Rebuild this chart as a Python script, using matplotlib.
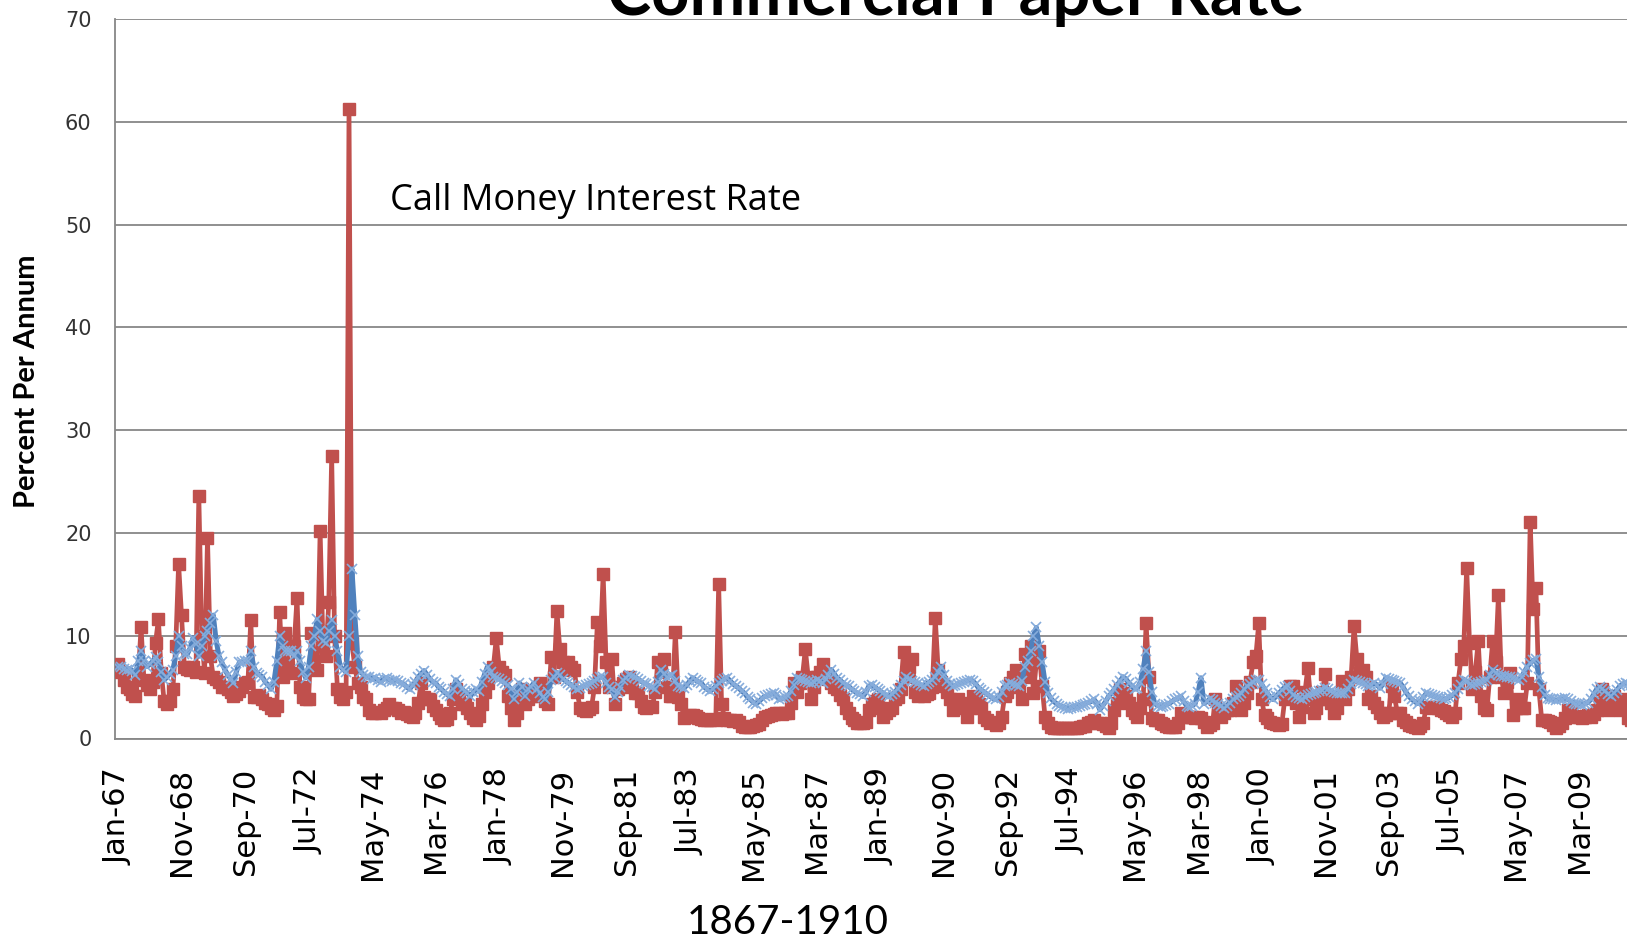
import matplotlib
matplotlib.use("Agg")
import matplotlib.pyplot as plt
import numpy as np

# monthly rates, Jan 1867 - Dec 1910, one row per year
call_money = [
    7.2, 6.5, 5.7, 5.0, 4.8, 4.3, 4.1, 6.0, 10.8, 5.7, 5.2, 4.8,      # 1867
    5.5, 9.3, 11.6, 6.4, 3.6, 3.4, 3.6, 4.8, 9.0, 17.0, 12.0, 7.0,    # 1868
    6.8, 6.7, 7.0, 6.5, 23.6, 10.0, 6.4, 19.5, 8.0, 6.0, 5.8, 5.5,    # 1869
    5.0, 5.0, 4.8, 4.5, 4.1, 4.3, 4.6, 5.0, 5.4, 5.5, 11.5, 4.0,      # 1870
    4.0, 4.2, 3.8, 3.5, 3.4, 3.0, 2.8, 3.2, 12.3, 6.0, 10.3, 7.0,     # 1871
    6.4, 9.0, 13.7, 5.0, 4.0, 3.8, 3.8, 10.3, 7.5, 6.7, 20.2, 9.0,    # 1872
    8.0, 13.3, 27.5, 10.0, 4.8, 4.0, 3.8, 4.5, 61.2, 9.3, 7.0, 5.4,   # 1873
    5.0, 4.0, 3.8, 2.8, 2.5, 2.5, 2.6, 2.5, 2.8, 3.0, 3.4, 3.0,       # 1874
    3.0, 2.8, 2.5, 2.6, 2.4, 2.2, 2.1, 2.5, 3.5, 5.4, 4.0, 3.8,       # 1875
    3.8, 3.2, 2.8, 2.4, 2.0, 1.8, 1.9, 2.5, 3.8, 4.8, 4.0, 3.4,       # 1876
    3.4, 3.0, 2.5, 2.0, 1.8, 2.2, 3.4, 4.5, 5.4, 6.5, 7.0, 9.8,       # 1877
    7.0, 6.5, 6.2, 4.1, 3.0, 1.8, 2.5, 3.5, 4.8, 3.4, 3.8, 4.1,       # 1878
    4.1, 4.5, 5.4, 4.5, 3.6, 3.4, 7.9, 6.0, 12.4, 8.7, 7.4, 6.7,      # 1879
    7.4, 7.0, 6.7, 4.5, 3.0, 2.8, 2.7, 2.9, 3.1, 5.0, 11.3, 9.0,      # 1880
    16.0, 7.4, 5.0, 7.7, 3.4, 4.8, 5.0, 5.4, 5.8, 6.0, 5.0, 4.4,      # 1881
    4.4, 3.6, 3.1, 3.0, 3.2, 3.1, 4.5, 7.4, 6.5, 7.7, 5.0, 4.1,       # 1882
    4.1, 10.4, 4.0, 3.4, 2.0, 2.1, 2.3, 2.3, 2.2, 2.0, 1.9, 1.8,      # 1883
    1.8, 1.8, 1.9, 1.8, 15.0, 3.4, 2.0, 1.8, 1.8, 1.7, 1.8, 1.6,      # 1884
    1.2, 1.1, 1.1, 1.1, 1.2, 1.3, 1.4, 1.8, 2.1, 2.2, 2.3, 2.4,       # 1885
    2.5, 2.5, 2.4, 2.5, 2.5, 3.5, 5.4, 4.5, 5.4, 6.0, 8.7, 6.0,       # 1886
    3.8, 5.0, 6.0, 6.5, 7.2, 6.0, 5.8, 5.4, 5.0, 4.8, 4.2, 3.8,       # 1887
    3.0, 2.5, 2.0, 1.8, 1.5, 1.5, 1.5, 1.6, 2.8, 3.4, 3.6, 3.8,       # 1888
    3.0, 2.1, 2.5, 2.8, 3.0, 3.8, 4.0, 4.8, 8.4, 6.0, 7.0, 7.7,       # 1889
    4.5, 4.1, 4.2, 4.1, 4.3, 4.4, 5.0, 11.7, 6.7, 5.5, 5.1, 4.5,      # 1890
    3.8, 2.8, 3.0, 3.8, 3.5, 3.4, 2.1, 3.0, 4.1, 3.8, 3.4, 3.0,       # 1891
    2.1, 1.8, 1.5, 1.6, 1.3, 1.5, 2.1, 4.1, 4.5, 5.4, 6.0, 6.7,       # 1892
    5.0, 3.8, 8.2, 6.0, 9.0, 4.4, 7.4, 8.5, 5.1, 2.1, 1.5, 1.1,       # 1893
    1.0, 1.0, 1.0, 1.0, 1.0, 1.0, 1.0, 1.0, 1.0, 1.1, 1.2, 1.2,       # 1894
    1.5, 1.6, 1.8, 1.5, 1.5, 1.4, 1.2, 1.0, 1.5, 2.8, 3.5, 4.8,       # 1895
    4.4, 4.1, 3.5, 2.8, 2.5, 2.1, 3.0, 3.8, 11.2, 6.0, 2.0, 1.8,      # 1896
    1.8, 1.5, 1.4, 1.2, 1.1, 1.1, 1.1, 1.5, 2.5, 2.3, 2.1, 2.1,       # 1897
    2.1, 2.0, 2.1, 2.0, 1.6, 1.1, 1.3, 1.5, 3.8, 2.5, 2.1, 2.5,       # 1898
    2.8, 2.8, 3.5, 5.1, 3.5, 2.8, 3.5, 4.4, 5.5, 7.4, 8.0, 11.2,      # 1899
    3.8, 2.3, 2.0, 1.6, 1.5, 1.4, 1.3, 1.4, 3.8, 4.0, 5.1, 5.1,       # 1900
    3.5, 2.1, 3.1, 4.5, 6.9, 3.8, 2.5, 3.0, 3.8, 4.5, 6.3, 3.8,       # 1901
    3.5, 2.5, 3.0, 4.0, 5.6, 3.8, 4.8, 6.0, 10.9, 7.7, 6.5, 6.7,      # 1902
    6.0, 3.8, 4.1, 3.5, 3.1, 2.5, 2.1, 2.3, 2.5, 5.1, 4.1, 2.5,       # 1903
    2.5, 1.8, 1.6, 1.3, 1.2, 1.1, 1.0, 1.2, 1.5, 3.1, 3.0, 3.1,       # 1904
    3.1, 3.0, 2.8, 2.7, 2.5, 2.3, 2.1, 2.5, 5.4, 7.7, 9.0, 16.6,      # 1905
    9.3, 4.8, 6.5, 9.5, 4.1, 3.0, 2.8, 6.0, 9.5, 7.4, 14.0, 6.0,      # 1906
    4.4, 5.5, 6.4, 2.3, 3.0, 3.8, 3.0, 3.0, 5.4, 21.1, 12.6, 14.6,    # 1907
    4.8, 1.8, 1.8, 1.7, 1.6, 1.3, 1.0, 1.2, 1.5, 2.0, 2.8, 2.5,       # 1908
    2.1, 2.2, 2.1, 2.0, 2.1, 2.3, 2.1, 2.4, 2.8, 3.5, 4.8, 3.5,       # 1909
    2.8, 3.5, 4.1, 3.0, 2.8, 3.2, 3.8, 2.0, 1.8, 2.5, 3.0, 3.5,       # 1910
]

commercial_paper = [
    7.0, 7.0, 6.8, 6.7, 6.8, 6.6, 6.2, 7.5, 8.5, 7.5, 7.0, 7.2,       # 1867
    7.5, 7.9, 7.4, 6.5, 5.7, 6.0, 6.3, 6.7, 8.0, 10.0, 9.0, 8.2,      # 1868
    8.2, 8.8, 9.8, 9.2, 8.0, 9.0, 10.0, 10.5, 11.2, 12.0, 9.5, 8.0,   # 1869
    7.4, 6.7, 6.2, 5.8, 5.4, 6.5, 7.4, 7.4, 7.5, 7.5, 8.5, 7.0,       # 1870
    6.4, 6.2, 6.0, 5.5, 5.2, 4.8, 5.5, 7.5, 10.0, 9.0, 8.5, 8.5,      # 1871
    8.5, 8.0, 8.5, 7.5, 6.5, 5.9, 7.0, 9.0, 10.0, 11.6, 10.5, 9.5,    # 1872
    9.3, 10.5, 11.5, 10.0, 8.5, 7.0, 6.7, 6.5, 10.0, 16.5, 12.0, 8.0, # 1873
    6.5, 6.2, 6.0, 6.0, 5.8, 5.9, 5.7, 5.5, 5.8, 5.9, 5.7, 5.6,       # 1874
    5.7, 5.6, 5.4, 5.3, 5.0, 4.8, 5.2, 5.5, 6.0, 6.3, 6.6, 6.2,       # 1875
    5.8, 5.5, 5.4, 5.0, 4.8, 4.5, 4.3, 4.1, 4.8, 5.7, 5.3, 4.8,       # 1876
    4.6, 4.4, 4.1, 4.5, 4.8, 4.6, 5.5, 6.3, 7.0, 6.5, 6.0, 5.9,       # 1877
    5.8, 5.6, 5.4, 5.2, 4.8, 3.8, 4.5, 5.4, 5.0, 4.1, 4.8, 5.0,       # 1878
    5.4, 4.8, 4.4, 4.0, 3.8, 4.5, 5.7, 6.0, 6.4, 6.2, 5.8, 5.6,       # 1879
    5.4, 5.2, 5.0, 4.8, 4.9, 5.1, 5.2, 5.3, 5.4, 5.6, 5.8, 6.0,       # 1880
    6.0, 5.4, 5.0, 4.8, 4.0, 4.5, 5.0, 5.7, 5.9, 6.2, 6.1, 6.0,       # 1881
    5.8, 5.6, 5.4, 5.3, 5.1, 5.0, 4.8, 5.5, 6.7, 6.3, 6.0, 6.1,       # 1882
    6.2, 5.6, 5.1, 5.0, 4.9, 5.2, 5.6, 5.9, 5.7, 5.5, 5.4, 5.0,       # 1883
    4.8, 4.6, 4.8, 5.1, 5.4, 5.6, 5.8, 5.9, 5.6, 5.3, 5.1, 4.9,       # 1884
    4.6, 4.4, 4.0, 3.8, 3.5, 3.4, 3.6, 3.9, 4.1, 4.2, 4.3, 4.4,       # 1885
    4.2, 3.8, 3.9, 4.0, 4.1, 4.6, 5.2, 5.9, 5.8, 5.7, 5.6, 5.5,       # 1886
    5.4, 5.5, 5.7, 5.6, 5.4, 5.8, 6.2, 6.7, 6.3, 5.9, 5.7, 5.4,       # 1887
    5.2, 5.1, 4.8, 4.6, 4.4, 4.3, 4.1, 4.5, 5.1, 5.2, 5.0, 4.8,       # 1888
    4.6, 4.4, 4.2, 4.1, 4.3, 4.5, 4.8, 5.2, 5.6, 6.0, 5.8, 5.6,       # 1889
    5.5, 5.4, 5.2, 5.1, 5.3, 5.5, 5.7, 6.0, 6.5, 7.0, 6.2, 5.6,       # 1890
    5.3, 5.1, 5.2, 5.3, 5.4, 5.5, 5.6, 5.7, 5.6, 5.3, 4.9, 4.7,       # 1891
    4.5, 4.3, 4.1, 3.9, 3.8, 4.0, 4.5, 5.1, 5.2, 5.4, 5.3, 5.2,       # 1892
    5.1, 5.6, 7.0, 7.5, 8.5, 10.0, 10.8, 9.0, 7.4, 5.5, 4.4, 3.9,     # 1893
    3.6, 3.4, 3.2, 3.1, 3.0, 2.9, 3.0, 3.1, 3.1, 3.2, 3.3, 3.4,       # 1894
    3.5, 3.6, 3.8, 3.4, 2.8, 3.2, 3.6, 4.1, 4.4, 4.8, 5.2, 5.6,       # 1895
    6.0, 5.8, 5.4, 5.1, 4.8, 4.9, 5.5, 6.8, 8.5, 6.5, 4.5, 3.4,       # 1896
    3.2, 3.1, 3.2, 3.3, 3.4, 3.6, 3.8, 3.9, 4.1, 3.6, 3.2, 3.1,       # 1897
    3.2, 3.4, 4.5, 5.9, 3.4, 3.6, 3.8, 3.7, 3.5, 3.4, 3.2, 3.0,       # 1898
    3.2, 3.5, 3.8, 4.0, 4.1, 4.4, 4.8, 5.1, 5.3, 5.5, 5.7, 5.7,       # 1899
    5.3, 4.8, 4.4, 4.0, 3.8, 4.1, 4.4, 4.7, 5.0, 5.1, 4.6, 4.2,       # 1900
    4.0, 3.9, 3.8, 4.0, 4.2, 4.3, 4.4, 4.5, 4.6, 4.7, 4.9, 4.8,       # 1901
    4.6, 4.5, 4.4, 4.4, 4.4, 4.4, 4.8, 5.3, 5.7, 5.6, 5.5, 5.4,       # 1902
    5.3, 5.1, 5.2, 5.4, 5.2, 4.9, 5.3, 5.9, 5.8, 5.7, 5.6, 5.5,       # 1903
    5.4, 5.0, 4.5, 4.1, 3.8, 3.6, 3.4, 3.6, 4.0, 4.4, 4.3, 4.2,       # 1904
    4.1, 4.0, 3.9, 3.8, 3.9, 4.0, 4.2, 4.4, 4.8, 5.2, 5.7, 5.6,       # 1905
    5.3, 5.2, 5.3, 5.4, 5.5, 5.6, 5.7, 6.2, 6.7, 6.4, 6.2, 6.1,       # 1906
    6.1, 6.0, 6.0, 5.9, 5.8, 5.7, 6.0, 6.5, 7.0, 7.3, 7.6, 7.7,       # 1907
    6.0, 5.0, 4.2, 3.9, 3.8, 3.8, 3.7, 3.8, 3.8, 3.9, 3.8, 3.6,       # 1908
    3.5, 3.4, 3.4, 3.3, 3.4, 3.5, 3.8, 4.3, 4.8, 5.0, 4.8, 4.6,       # 1909
    4.3, 4.1, 4.4, 4.7, 5.1, 5.3, 5.4, 5.3, 5.2, 5.0, 4.9, 4.8,       # 1910
]

tick_labels = ['Jan-67', 'Nov-68', 'Sep-70', 'Jul-72', 'May-74', 'Mar-76',
               'Jan-78', 'Nov-79', 'Sep-81', 'Jul-83', 'May-85', 'Mar-87',
               'Jan-89', 'Nov-90', 'Sep-92', 'Jul-94', 'May-96', 'Mar-98',
               'Jan-00', 'Nov-01', 'Sep-03', 'Jul-05', 'May-07', 'Mar-09']
tick_step = 22  # months between labels

red = '#C0504D'
blue = '#4F81BD'
grid_c = '#878787'

months = np.arange(len(call_money))

W, H = 1627, 943
fig = plt.figure(figsize=(W / 100, H / 100), dpi=100)
# plot area runs past the right edge of the picture, like the cropped original
ax = fig.add_axes([114.5 / W, 1 - 738.5 / H, (1650 - 114.5) / W, (738.5 - 19) / H])

ax.plot(months, call_money, color=red, lw=3.4, marker='s', ms=8.5,
        mec=red, mfc=red, zorder=3)
ax.plot(months, commercial_paper, color=blue, lw=3.6, marker='x', ms=7,
        mew=1.2, mec='#86ACDB', zorder=4)

ax.set_ylim(0, 70)
ax.set_xlim(-1.2, -1.2 + (1650 - 114.5) / 2.888)
ax.set_yticks(range(0, 71, 10))
ax.yaxis.grid(True, color=grid_c, lw=1.3)
ax.set_axisbelow(True)
for s in ['top', 'right']:
    ax.spines[s].set_visible(False)
for s in ['left', 'bottom']:
    ax.spines[s].set_color(grid_c)
    ax.spines[s].set_linewidth(1.3)
ax.tick_params(axis='y', length=0, pad=16.5, labelsize=15, labelcolor='#333333')
ax.tick_params(axis='x', length=0, pad=21, labelsize=22)

ax.set_xticks(np.arange(len(tick_labels)) * tick_step)
ax.set_xticklabels(tick_labels, rotation=90, fontfamily='DejaVu Sans')

fig.text(390 / W, 1 - 201 / H, 'Call Money Interest Rate',
         fontsize=26, fontfamily='Open Sans', va='center', ha='left')

fig.text(956 / W, 1 - 15 / H, 'Commercial Paper Rate', fontsize=48,
         fontweight='bold', fontfamily='Lato', ha='center', va='baseline')
fig.text(27 / W, 1 - 381 / H, 'Percent Per Annum', fontsize=21,
         fontweight='bold', fontfamily='Lato', rotation=90,
         ha='center', va='center')
fig.text(788 / W, 1 - 934 / H, '1867-1910', fontsize=29,
         fontfamily='Lato', ha='center', va='baseline')

fig.savefig('out.png', dpi=100)
